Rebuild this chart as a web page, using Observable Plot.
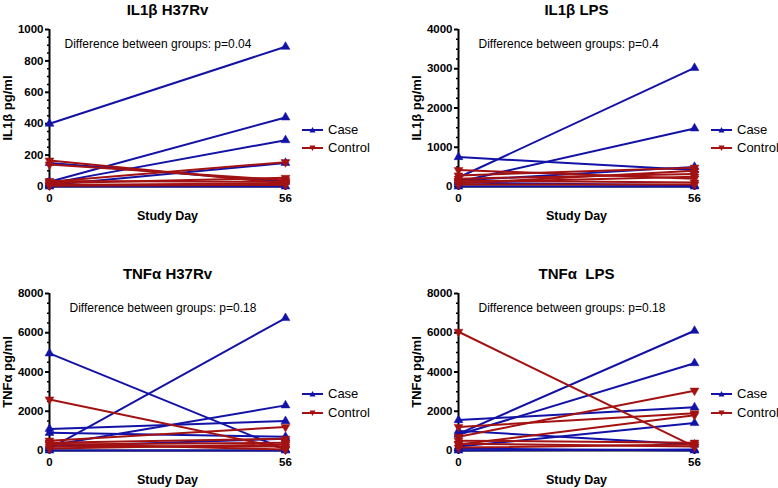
<!DOCTYPE html>
<html>
<head>
<meta charset="utf-8">
<script src="https://cdn.jsdelivr.net/npm/d3@7"></script>
<script src="https://cdn.jsdelivr.net/npm/@observablehq/plot@0.6"></script>
<style>
  body { margin: 0; background: #fff; }
  #wrap { position: relative; width: 778px; height: 488px; overflow: hidden; font-family: "Liberation Sans", Arial, sans-serif; }
  .panel { position: absolute; }
  .legend { position: absolute; font-size: 13px; color: #000; }
  .legend .row { position: absolute; left: 0; height: 16px; white-space: nowrap; }
  .legend svg { position: absolute; left: 0; top: 0; }
  .legend span { position: absolute; left: 26px; top: 0; line-height: 16px; }
</style>
</head>
<body>
<div id="wrap"></div>
<script>
// ---- data ([day 0, day 56] per subject) ----
const days = [0, 56];
const groups = ["Case", "Control"];
const colors = ["#1212a6", "#a31212"];

const titles = ["IL1\u03b2 H37Rv", "IL1\u03b2 LPS", "TNF\u03b1 H37Rv", "TNF\u03b1  LPS"];
const yLabels = ["IL1\u03b2 pg/ml", "IL1\u03b2 pg/ml", "TNF\u03b1 pg/ml", "TNF\u03b1 pg/ml"];
const pTexts = [
  "Difference between groups: p=0.04",
  "Difference between groups: p=0.4",
  "Difference between groups: p=0.18",
  "Difference between groups: p=0.18"
];
const yMaxes = [1000, 4000, 8000, 8000];
const yTicks1 = [0, 200, 400, 600, 800, 1000];
const yTicks2 = [0, 1000, 2000, 3000, 4000];
const yTicks3 = [0, 2000, 4000, 6000, 8000];

const il1bH37Rv_case = [[400, 890], [30, 440], [20, 295], [150, 30], [10, 150], [0, 0]];
const il1bH37Rv_control = [[165, 20], [140, 40], [30, 155], [20, 55], [10, 20], [5, 10], [35, 30]];

const il1bLPS_case = [[750, 420], [230, 3020], [120, 1480], [150, 500], [0, 0], [100, 30]];
const il1bLPS_control = [[420, 200], [280, 480], [200, 320], [150, 100], [100, 250], [50, 50], [80, 400]];

const tnfH37Rv_case = [[4950, 50], [100, 6750], [1100, 1500], [900, 700], [250, 2300], [0, 0], [200, 600]];
const tnfH37Rv_control = [[2600, 100], [500, 1200], [400, 600], [300, 400], [200, 200], [350, 50], [100, 300]];

const tnfLPS_case = [[1550, 2200], [850, 6100], [800, 4450], [200, 1400], [1000, 300], [100, 0], [0, 50]];
const tnfLPS_control = [[6050, 200], [1200, 1900], [700, 3050], [300, 1800], [500, 400], [350, 200], [150, 300]];

// ---- helpers ----
function toRows(pairs, group) {
  const rows = [];
  pairs.forEach((p, i) => {
    p.forEach((v, j) => rows.push({ id: group + i, group, day: days[j], value: v }));
  });
  return rows;
}

const triDown = {
  draw(ctx, size) {
    const s = Math.sqrt(size * 4 / Math.sqrt(3));
    const h = s * Math.sqrt(3) / 2;
    ctx.moveTo(0, h * 2 / 3);
    ctx.lineTo(s / 2, -h / 3);
    ctx.lineTo(-s / 2, -h / 3);
    ctx.closePath();
  }
};

const fmt = d => String(d);

function panel(k, caseData, controlData, ticks, xOff, yOff) {
  const caseRows = toRows(caseData, "Case");
  const ctrlRows = toRows(controlData, "Control");
  const yMax = yMaxes[k];
  const minorStep = (ticks[1] - ticks[0]) / 4;
  const minor = d3.range(0, yMax + 0.001, minorStep).filter(v => !ticks.includes(v));
  const chart = Plot.plot({
    width: 369,
    height: 224,
    marginLeft: 49,
    marginRight: 84,
    marginTop: 29,
    marginBottom: 38,
    x: { domain: [0, 56] },
    y: { domain: [0, yMax] },
    style: { fontFamily: "'Liberation Sans', Arial, sans-serif", fontWeight: "bold", overflow: "visible", background: "transparent", color: "#000" },
    marks: [
      Plot.axisY({ ticks: minor, tickSize: 2, text: null, strokeWidth: 1.5, label: null }),
      Plot.axisY({ ticks, tickFormat: fmt, tickSize: 4, tickPadding: 2, fontSize: 11.5, fontWeight: "bold", strokeWidth: 2, label: null }),
      Plot.axisX({ ticks: days, tickFormat: fmt, tickSize: 4, tickPadding: 3, fontSize: 11.5, fontWeight: "bold", strokeWidth: 2, label: null }),
      Plot.ruleX([0], { y1: 0, y2: yMax, stroke: "#000", strokeWidth: 2 }),
      Plot.ruleY([0], { x1: 0, x2: 56, stroke: "#000", strokeWidth: 2 }),
      Plot.line(caseRows, { x: "day", y: "value", z: "id", stroke: colors[0], strokeWidth: 2 }),
      Plot.dot(caseRows, { x: "day", y: "value", symbol: "triangle", r: 3.3, fill: colors[0], stroke: colors[0], strokeWidth: 0.5 }),
      Plot.line(ctrlRows, { x: "day", y: "value", z: "id", stroke: colors[1], strokeWidth: 2 }),
      Plot.dot(ctrlRows, { x: "day", y: "value", symbol: triDown, r: 3.3, fill: colors[1], stroke: colors[1], strokeWidth: 0.5 }),
      Plot.text([titles[k]], { frameAnchor: "top", dy: -19, lineAnchor: "middle", fontSize: 15, fontWeight: "bold" }),
      Plot.text([yLabels[k]], { frameAnchor: "left", dx: -42, rotate: -90, textAnchor: "middle", lineAnchor: "middle", fontSize: 13, fontWeight: "bold" }),
      Plot.text(["Study Day"], { frameAnchor: "bottom", dy: 29, lineAnchor: "middle", fontSize: 12.5, fontWeight: "bold" }),
      Plot.text([pTexts[k]], { frameAnchor: "top-left", dx: k === 0 ? 15 : 20, dy: 15, textAnchor: "start", lineAnchor: "middle", fontSize: 12, fontWeight: "normal" })
    ]
  });
  const div = document.createElement("div");
  div.className = "panel";
  div.style.left = xOff + "px";
  div.style.top = yOff + "px";
  div.appendChild(chart);
  // legend
  const leg = document.createElement("div");
  leg.className = "legend";
  leg.style.left = (302) + "px";
  leg.style.top = "0px";
  const ys = yOff > 0 ? [130, 149] : [130, 148];
  groups.forEach((g, i) => {
    const row = document.createElement("div");
    row.className = "row";
    row.style.top = (ys[i] - 8) + "px";
    const pts = i === 0 ? "7.5,5 10.5,10.5 4.5,10.5" : "7.5,11 10.5,5.5 4.5,5.5";
    row.innerHTML = `<svg width="22" height="16"><line x1="0" y1="8" x2="21" y2="8" stroke="${colors[i]}" stroke-width="2"/><polygon points="${pts}" transform="translate(3,0)" fill="${colors[i]}"/></svg><span>${g}</span>`;
    leg.appendChild(row);
  });
  div.appendChild(leg);
  document.getElementById("wrap").appendChild(div);
}

panel(0, il1bH37Rv_case, il1bH37Rv_control, yTicks1, 0, 0);
panel(1, il1bLPS_case, il1bLPS_control, yTicks2, 409, 0);
panel(2, tnfH37Rv_case, tnfH37Rv_control, yTicks3, 0, 264);
panel(3, tnfLPS_case, tnfLPS_control, yTicks3, 409, 264);
</script>
</body>
</html>
